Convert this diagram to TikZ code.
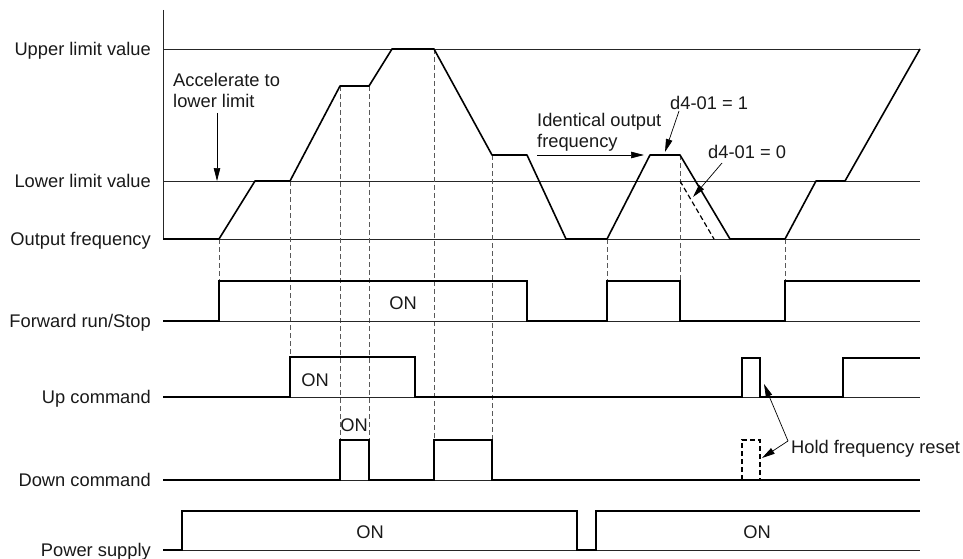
\documentclass[tikz,border=0pt]{standalone}
\usepackage{fontspec}
\setmainfont{Liberation Sans}
\usetikzlibrary{arrows.meta}
\begin{document}
\begin{tikzpicture}[x=1pt,y=-1pt,
  lbl/.style={font=\fontsize{18.3}{21.5}\selectfont, inner sep=0pt, text=black!90},
  refl/.style={line width=0.8pt, black!85},
  sig/.style={line width=1.4pt, black, line join=miter},
  curve/.style={line width=1.6pt, black, line join=round},
  dsh/.style={line width=0.9pt, black!65, dash pattern=on 5pt off 3pt},
  dshb/.style={line width=1.2pt, black, dash pattern=on 5pt off 3pt},
  arr/.style={line width=0.7pt, -{Triangle[length=13pt,width=6.5pt]}}]
\useasboundingbox (0,0) rectangle (963,559);

% axis and reference lines
\coordinate (axtop) at (163,10);
\coordinate (axbot) at (163,239);
\draw[refl] (axtop) -- (axbot);
\draw[refl] (163,49) -- (920,49);
\draw[refl] (163,181) -- (920,181);
\draw[refl] (163,239) -- (920,239);

% left labels
\node[lbl, anchor=base east] (lupper) at (151,55.5) {Upper limit value};
\node[lbl, anchor=base east] (llower) at (151,187.5) {Lower limit value};
\node[lbl, anchor=base east] (lout) at (151,245.5) {Output frequency};
\node[lbl, anchor=base east] (lfwd) at (151,327.5) {Forward run/Stop};
\node[lbl, anchor=base east] (lup) at (151,403.5) {Up command};
\node[lbl, anchor=base east] (ldown) at (151,486) {Down command};
\node[lbl, anchor=base east] (lpow) at (151,556) {Power supply};

% dashed guide lines
\draw[dsh] (219,239) -- (219,281);
\draw[dsh] (290,181) -- (290,357);
\draw[dsh] (340,86) -- (340,440);
\draw[dsh] (369,86) -- (369,440);
\draw[dsh] (434,49) -- (434,440);
\draw[dsh] (492,155) -- (492,440);
\draw[dsh] (607,239) -- (607,281);
\draw[dsh] (680,155) -- (680,281);
\draw[dsh] (785,239) -- (785,281);

% output frequency curve
\draw[curve] (163,239) -- (219,239) -- (255,181) -- (290,181) -- (340,86) -- (369,86)
  -- (392,49) -- (434,49) -- (492,155) -- (527,155) -- (566,239) -- (607,239)
  -- (650,155) -- (680,155) -- (730,239) -- (785,239) -- (816,181) -- (845,181) -- (920,49);
\draw[dshb] (680,181) -- (714,239);

% signal baselines
\draw[refl] (163,321) -- (920,321);
\draw[refl] (163,397) -- (920,397);
\draw[refl] (163,480) -- (920,480);
\draw[refl] (163,550) -- (920,550);

% Forward run/Stop
\draw[sig] (163,321) -- (219,321) -- (219,281) -- (527,281) -- (527,321) -- (607,321)
  -- (607,281) -- (680,281) -- (680,321) -- (785,321) -- (785,281) -- (920,281);
% Up command
\draw[sig] (163,397) -- (290,397) -- (290,357) -- (415,357) -- (415,397) -- (742,397)
  -- (742,358) -- (760,358) -- (760,397) -- (843,397) -- (843,358) -- (920,358);
% Down command
\draw[sig] (163,480) -- (340,480) -- (340,440) -- (369,440) -- (369,480) -- (434,480)
  -- (434,440) -- (492,440) -- (492,480) -- (920,480);
\draw[dshb] (742,480) -- (742,440) -- (760,440) -- (760,480);
% Power supply
\draw[sig] (163,550) -- (182,550) -- (182,511) -- (577,511) -- (577,550) -- (596,550)
  -- (596,511) -- (920,511);

% ON labels
\node[lbl, anchor=base] (onfwd) at (403,309.5) {ON};
\node[lbl, anchor=base] (onup) at (315,386.5) {ON};
\node[lbl, anchor=base] (ondown) at (354,431.5) {ON};
\node[lbl, anchor=base] (onpow1) at (370,538.5) {ON};
\node[lbl, anchor=base] (onpow2) at (757,538.5) {ON};

% annotations
\node[lbl, anchor=north west, align=left] (acc) at (173,73) {Accelerate to\\lower limit};
\coordinate (accs) at (217,113);
\coordinate (acct) at (217,181);
\draw[arr] (accs) -- (acct);

\node[lbl, anchor=north west, align=left] (ident) at (537,113) {Identical output\\frequency};
\coordinate (ids) at (537,155);
\coordinate (idt) at (644,155);
\draw[arr] (ids) -- (idt);

\node[lbl, anchor=base west] (d1) at (670,109.5) {d4-01 = 1};
\coordinate (d1s) at (679,111);
\coordinate (d1t) at (665,152);
\draw[arr] (d1s) -- (d1t);

\node[lbl, anchor=base west] (d0) at (708,158.5) {d4-01 = 0};
\coordinate (d0s) at (722,163);
\coordinate (d0t) at (693,197);
\draw[arr] (d0s) -- (d0t);

\node[lbl, anchor=base west] (hold) at (791,453.5) {Hold frequency reset};
\coordinate (hs) at (788,441);
\coordinate (ht1) at (764,384);
\coordinate (ht2) at (762,458);
\draw[arr] (hs) -- (ht1);
\draw[arr] (hs) -- (ht2);
\end{tikzpicture}
\end{document}
